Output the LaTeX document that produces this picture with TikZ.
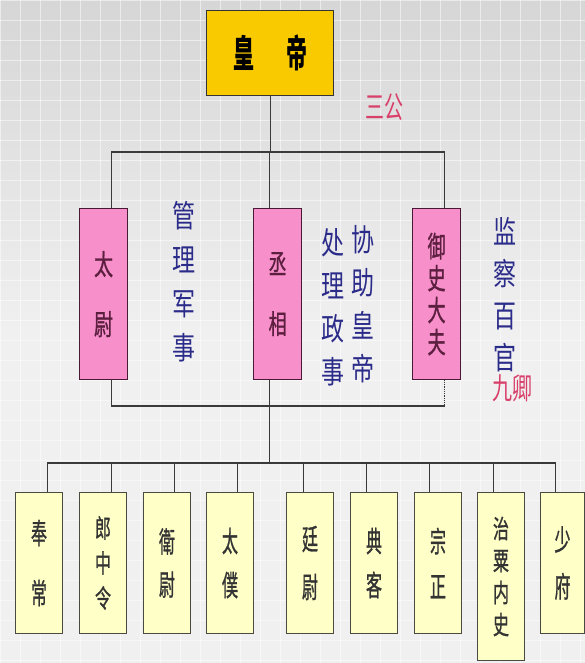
\documentclass[tikz,border=0pt]{standalone}
\usepackage{graphicx}
\usepackage{fontspec}
\newfontfamily\cjk{Noto Sans CJK SC}
\newfontfamily\cjkm{Noto Sans CJK SC}[FakeBold=1.2]
\newcommand{\vg}[2][1.5]{\scalebox{1}[#1]{#2}}
\definecolor{bgtop}{HTML}{D6D6D6}
\definecolor{bgbot}{HTML}{F0F0F0}
\definecolor{goldc}{HTML}{FACA00}
\definecolor{pinkc}{HTML}{F78FCA}
\definecolor{maroonc}{HTML}{4A1A35}
\definecolor{pinktext}{HTML}{5C1F3F}
\definecolor{paleyel}{HTML}{FFFFC8}
\definecolor{boxedge}{HTML}{4A4A40}
\definecolor{inkblue}{HTML}{2B2B8A}
\definecolor{inkred}{HTML}{D8406A}
\definecolor{linec}{HTML}{3A3A3A}
\tikzset{
  emperorbox/.style={draw=black!80, line width=1.3pt, fill=goldc, minimum width=127pt, minimum height=85pt, anchor=north west, inner sep=0pt, font=\cjk\bfseries\fontsize{21}{24}\selectfont},
  gongbox/.style={draw=maroonc, line width=1.2pt, fill=pinkc, minimum width=48pt, minimum height=171pt, anchor=north west, inner sep=0pt, align=center, text=pinktext},
  qingbox/.style={draw=boxedge, line width=1pt, fill=paleyel, minimum width=47pt, minimum height=141pt, anchor=north west, inner sep=0pt, align=center, text=black!80},
  ink/.style={text=inkblue, inner sep=0pt, align=center, font=\cjk\fontsize{23}{44}\selectfont},
  redink/.style={text=inkred, inner sep=0pt, font=\cjk\fontsize{19}{22}\selectfont},
  conn/.style={draw=linec, line width=0.8pt},
  bus/.style={draw=linec, line width=1.3pt},
}
\begin{document}
\begin{tikzpicture}[x=1pt,y=-1pt]
\fill[top color=bgtop, bottom color=bgbot, middle color=bgbot, shading angle=0] (0,0) rectangle (585,663);
\useasboundingbox (0,0) rectangle (585,663);
\begin{scope}[line width=0.3pt, opacity=0.5]
  \foreach \i in {0,20,...,580} \draw[white] (\i,0) -- (\i,663);
  \foreach \j in {0,20,...,660} \draw[white] (0,\j) -- (585,\j);
\end{scope}

% emperor
\node[emperorbox] (emp) at (206,10) {\vg[1.8]{皇}\hspace{32pt}\vg[1.8]{帝}};
\node[redink] (sangong) at (384,107) {\vg[1.6]{三公}};

% san gong
\node[gongbox, font=\cjkm\fontsize{19}{60}\selectfont] (taiwei) at (79,208) {\vg{太}\\\vg{尉}};
\node[gongbox, font=\cjkm\fontsize{18}{60}\selectfont] (chengx) at (253,208) {\vg{丞}\\\vg{相}};
\node[gongbox, font=\cjkm\fontsize{18}{32}\selectfont] (yushi) at (412,208) {\vg[1.6]{御}\\\vg[1.6]{史}\\\vg[1.6]{大}\\\vg[1.6]{夫}};

% annotations
\node[ink] (guanli) at (184,282) {\vg[1.35]{管}\\\vg[1.35]{理}\\\vg[1.35]{军}\\\vg[1.35]{事}};
\node[ink, font=\cjk\fontsize{23}{43}\selectfont] (chuli) at (333,307) {\vg[1.35]{处}\\\vg[1.35]{理}\\\vg[1.35]{政}\\\vg[1.35]{事}};
\node[ink, font=\cjk\fontsize{23}{43}\selectfont] (xiezhu) at (363,304) {\vg[1.35]{协}\\\vg[1.35]{助}\\\vg[1.35]{皇}\\\vg[1.35]{帝}};
\node[ink, font=\cjk\fontsize{23}{42}\selectfont] (jiancha) at (505,295) {\vg[1.35]{监}\\\vg[1.35]{察}\\\vg[1.35]{百}\\\vg[1.35]{官}};
\node[redink, font=\cjk\fontsize{20}{22}\selectfont] (jiuqing) at (512,388) {\vg[1.5]{九卿}};

% jiu qing
\node[qingbox, font=\cjkm\fontsize{16}{60}\selectfont] (q1) at (15,492) {\vg[1.8]{奉}\\\vg[1.8]{常}};
\node[qingbox, font=\cjkm\fontsize{16}{35}\selectfont] (q2) at (79,492) {\vg[1.6]{郎}\\\vg[1.6]{中}\\\vg[1.6]{令}};
\node[qingbox, font=\cjkm\fontsize{16}{43}\selectfont] (q3) at (143,492) {\vg[1.8]{衛}\\\vg[1.8]{尉}};
\node[qingbox, font=\cjkm\fontsize{16}{44}\selectfont] (q4) at (206,492) {\vg[1.8]{太}\\\vg[1.8]{僕}};
\node[qingbox, font=\cjkm\fontsize{16}{48}\selectfont] (q5) at (286,492) {\vg[1.8]{廷}\\\vg[1.8]{尉}};
\node[qingbox, font=\cjkm\fontsize{16}{44}\selectfont] (q6) at (350,492) {\vg[1.8]{典}\\\vg[1.8]{客}};
\node[qingbox, font=\cjkm\fontsize{16}{45}\selectfont] (q7) at (414,492) {\vg[1.8]{宗}\\\vg[1.8]{正}};
\node[qingbox, minimum height=168pt, font=\cjkm\fontsize{16}{32}\selectfont] (q8) at (477,492) {\vg[1.6]{治}\\\vg[1.6]{粟}\\\vg[1.6]{内}\\\vg[1.6]{史}};
\node[qingbox, minimum width=44pt, font=\cjkm\fontsize{16}{47}\selectfont] (q9) at (540,492) {\vg[1.8]{少}\\\vg[1.8]{府}};

% bus coordinates
\coordinate (topbus) at (269,152);
\coordinate (midbus) at (269,406);
\coordinate (lowbus) at (269,463);

% emperor to san gong
\draw[conn] (emp.south) -- (emp.south |- topbus);
\draw[bus] ([xshift=7.5pt]taiwei.north |- topbus) -- ([xshift=8pt]yushi.north |- topbus);
\draw[conn] ([xshift=7.5pt]taiwei.north |- topbus) -- ([xshift=7.5pt]taiwei.north);
\draw[conn] ([xshift=-8.5pt]chengx.north |- topbus) -- ([xshift=-8.5pt]chengx.north);
\draw[conn] ([xshift=8pt]yushi.north |- topbus) -- ([xshift=8pt]yushi.north);

% san gong to middle bus
\draw[conn] ([xshift=7.5pt]taiwei.south) -- ([xshift=7.5pt]taiwei.south |- midbus);
\draw[conn] ([xshift=-8.5pt]chengx.south) -- ([xshift=-8.5pt]chengx.south |- midbus);
\draw[conn, densely dotted] ([xshift=8pt]yushi.south) -- ([xshift=8pt]yushi.south |- midbus);
\draw[bus] ([xshift=7.5pt]taiwei.south |- midbus) -- ([xshift=8pt]yushi.south |- midbus);
\draw[conn] (midbus) -- (lowbus);

% lower bus to jiu qing
\draw[bus] ([xshift=8pt]q1.north |- lowbus) -- ([xshift=-7pt]q9.north |- lowbus);
\foreach \n/\s in {q1/8, q2/8.5, q3/7.5, q4/7.5, q5/-7, q6/-8, q7/-9, q8/-8, q9/-7}
  \draw[conn] ([xshift=\s pt]\n.north |- lowbus) -- ([xshift=\s pt]\n.north);
\end{tikzpicture}
\end{document}
